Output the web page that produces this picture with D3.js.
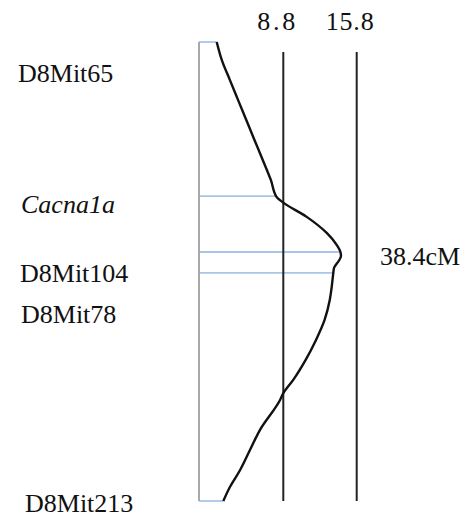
<!DOCTYPE html>
<html><head><meta charset="utf-8">
<script src="https://cdn.jsdelivr.net/npm/d3@7"></script>
<style>html,body{margin:0;padding:0;background:#fff}</style>
</head><body>
<svg id="chart" width="467" height="518"></svg>
<script>
// ---- data ----
const markerNames = ["D8Mit65", "Cacna1a", "D8Mit104", "D8Mit78", "D8Mit213"];
const markerPos = [0, 33.6, 45.75, 50.3, 100];           // relative position along interval
const thresholds = [8.8, 15.8];                          // LOD thresholds
const thresholdLabels = ["8.8", "15.8"];
const peakLabel = "38.4cM";
// LOD curve: position along interval, LOD value
const curvePos = [0, 3.9, 8.3, 12.6, 17.0, 21.4, 25.7, 30.1, 33.8, 35.0, 38.1, 41.6, 44.2, 45.75, 46.6, 47.5, 49.3, 50.3, 53.3, 56.2, 60.6, 64.9, 69.3, 73.6, 76.5, 78.0, 84.5, 88.9, 93.3, 96.9, 100];
const curveLod = [2.45, 2.93, 3.71, 4.48, 5.27, 6.06, 6.84, 7.62, 8.17, 8.8, 11.03, 12.94, 13.89, 14.25, 14.30, 14.14, 13.63, 13.57, 13.42, 13.23, 12.73, 11.92, 10.92, 9.75, 8.8, 8.49, 6.58, 5.62, 4.67, 3.72, 3.08];

// ---- layout ----
const svg = d3.select("#chart");
const plotLeft = 199, plotTop = 42, plotBottom = 501;
const x = d3.scaleLinear().domain([8.8, 15.8]).range([283.3, 356.7]);
const y = d3.scaleLinear().domain([0, 100]).range([plotTop, plotBottom]);
const font = "'Liberation Serif', 'Times New Roman', serif";
const fs = 26;

const curve = curvePos.map((p, i) => ({pos: p, lod: curveLod[i]}));
function lodAt(p) {
  const i = d3.bisector(d => d.pos).left(curve, p);
  if (i <= 0) return curve[0].lod;
  if (i >= curve.length) return curve[curve.length - 1].lod;
  const a = curve[i - 1], b = curve[i];
  return a.lod + (b.lod - a.lod) * (p - a.pos) / (b.pos - a.pos);
}

// marker horizontal lines (blue)
svg.append("g").selectAll("line").data(markerPos).join("line")
  .attr("x1", plotLeft).attr("x2", d => x(lodAt(d)))
  .attr("y1", d => y(d)).attr("y2", d => y(d))
  .attr("stroke", "#a9c6e8").attr("stroke-width", 1.8);

// left axis line
svg.append("line")
  .attr("x1", plotLeft).attr("x2", plotLeft)
  .attr("y1", y(0)).attr("y2", y(100))
  .attr("stroke", "#a8a8a8").attr("stroke-width", 2);

// threshold lines
svg.append("g").selectAll("line").data(thresholds).join("line")
  .attr("x1", d => x(d)).attr("x2", d => x(d))
  .attr("y1", y(0) + 10).attr("y2", y(100))
  .attr("stroke", "#222").attr("stroke-width", 2);

svg.append("g").selectAll("text").data(thresholds).join("text")
  .attr("x", d => x(d) - 7).attr("y", 30)
  .attr("text-anchor", "middle")
  .attr("font-family", font).attr("font-size", fs)
  .attr("fill", "#111")
  .attr("textLength", (d, i) => thresholdLabels[i].length === 3 ? 38 : 48)
  .attr("lengthAdjust", "spacing")
  .text((d, i) => thresholdLabels[i]);

// LOD curve
const line = d3.line().x(d => x(d.lod)).y(d => y(d.pos)).curve(d3.curveMonotoneY);
svg.append("path").datum(curve)
  .attr("d", line).attr("fill", "none")
  .attr("stroke", "#111").attr("stroke-width", 2.4)
  .attr("stroke-linejoin", "round");

// marker labels
const labelX = [18, 21, 20, 21, 25];
const labelBaseline = [81.7, 213.3, 281.7, 322.5, 511.7];
svg.append("g").selectAll("text").data(markerNames).join("text")
  .attr("x", (d, i) => labelX[i]).attr("y", (d, i) => labelBaseline[i])
  .attr("font-family", font).attr("font-size", fs)
  .attr("fill", "#111")
  .attr("font-style", (d, i) => i === 1 ? "italic" : "normal")
  .text(d => d);

// peak label
svg.append("text").attr("x", 380).attr("y", 265)
  .attr("font-family", font).attr("font-size", fs)
  .attr("fill", "#111")
  .text(peakLabel);
</script>
</body></html>
